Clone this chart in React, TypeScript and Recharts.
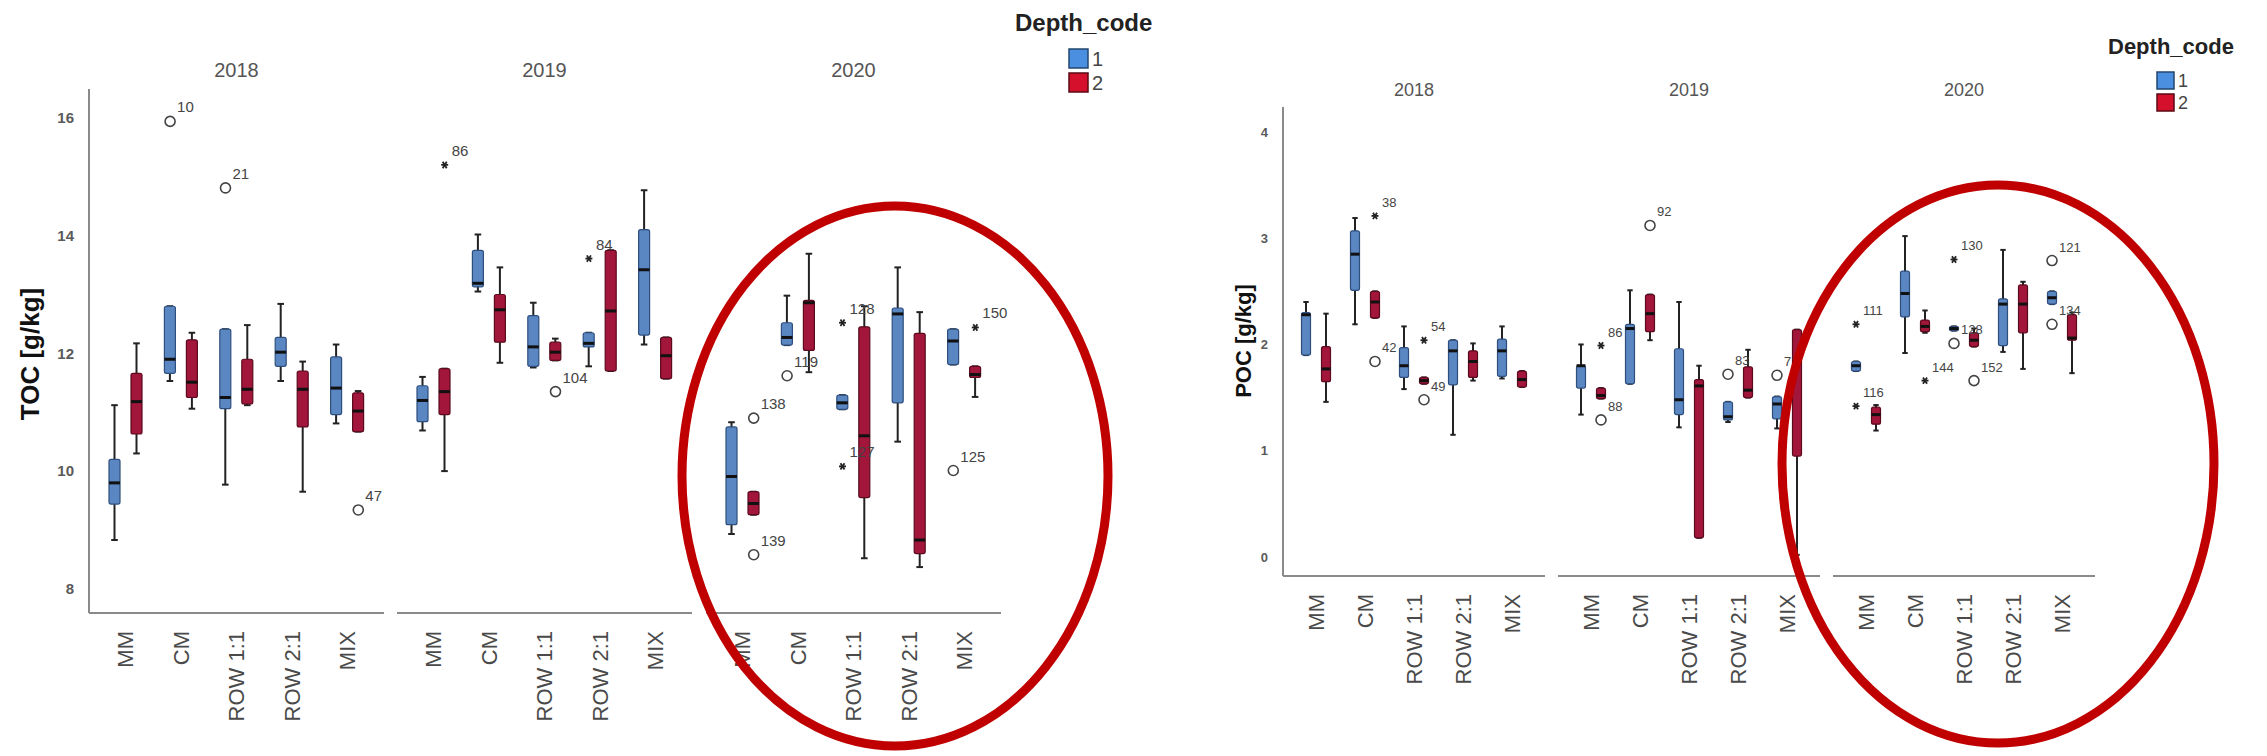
import { ComposedChart, Bar, Scatter, XAxis, YAxis } from "recharts";

const FONT = '"Liberation Sans", Arial, sans-serif';

const categories = ["MM", "CM", "ROW 1:1", "ROW 2:1", "MIX"];
const years = ["2018", "2019", "2020"];

// each entry: [min, q1, median, q3, max], one per category
const toc2018Depth1 = [[8.83, 9.44, 9.8, 10.2, 11.12], [11.53, 11.66, 11.9, 12.8, 12.8], [9.77, 11.06, 11.25, 12.41, 12.41], [11.53, 11.78, 12.02, 12.27, 12.84], [10.81, 10.96, 11.41, 11.94, 12.15]];
const toc2018Depth2 = [[10.3, 10.63, 11.18, 11.66, 12.17], [11.06, 11.25, 11.51, 12.23, 12.35], [11.12, 11.14, 11.39, 11.9, 12.48], [9.65, 10.75, 11.39, 11.7, 11.86], [10.67, 10.67, 11.02, 11.33, 11.36]];
const toc2019Depth1 = [[10.69, 10.84, 11.2, 11.45, 11.6], [13.05, 13.13, 13.19, 13.75, 14.02], [11.76, 11.78, 12.11, 12.64, 12.86], [11.78, 12.11, 12.17, 12.35, 12.35], [12.15, 12.31, 13.42, 14.1, 14.77]];
const toc2019Depth2 = [[10.0, 10.96, 11.35, 11.74, 11.74], [11.84, 12.19, 12.74, 13.0, 13.46], [11.88, 11.88, 12.02, 12.19, 12.25], [11.7, 11.7, 12.72, 13.75, 13.75], [11.57, 11.57, 11.96, 12.27, 12.27]];
const toc2020Depth1 = [[8.93, 9.09, 9.91, 10.75, 10.83], [12.14, 12.14, 12.27, 12.52, 12.98], [11.05, 11.05, 11.16, 11.29, 11.29], [10.5, 11.16, 12.67, 12.77, 13.46], [11.81, 11.81, 12.21, 12.41, 12.41]];
const toc2020Depth2 = [[9.26, 9.26, 9.45, 9.65, 9.65], [11.68, 12.05, 12.86, 12.9, 13.69], [8.52, 9.55, 10.6, 12.45, 12.8], [8.37, 8.6, 8.83, 12.34, 12.7], [11.26, 11.59, 11.64, 11.78, 11.78]];

const poc2018Depth1 = [[1.9, 1.9, 2.28, 2.3, 2.4], [2.19, 2.51, 2.85, 3.07, 3.19], [1.58, 1.69, 1.8, 1.97, 2.17], [1.15, 1.62, 1.94, 2.04, 2.04], [1.68, 1.7, 1.94, 2.05, 2.17]];
const poc2018Depth2 = [[1.46, 1.65, 1.77, 1.98, 2.29], [2.25, 2.25, 2.4, 2.5, 2.5], [1.63, 1.63, 1.66, 1.69, 1.69], [1.66, 1.69, 1.84, 1.94, 2.01], [1.6, 1.6, 1.67, 1.75, 1.75]];
const poc2019Depth1 = [[1.34, 1.59, 1.8, 1.8, 2.0], [1.63, 1.63, 2.15, 2.19, 2.51], [1.22, 1.34, 1.48, 1.96, 2.4], [1.27, 1.29, 1.32, 1.46, 1.46], [1.21, 1.3, 1.44, 1.51, 1.51]];
const poc2019Depth2 = [[1.49, 1.49, 1.52, 1.59, 1.59], [2.04, 2.12, 2.29, 2.47, 2.47], [0.18, 0.18, 1.61, 1.67, 1.8], [1.5, 1.5, 1.57, 1.79, 1.95], [0.02, 0.95, 1.84, 2.14, 2.14]];
const poc2020Depth1 = [[1.75, 1.75, 1.8, 1.84, 1.84], [1.92, 2.26, 2.48, 2.69, 3.02], [2.13, 2.13, 2.15, 2.17, 2.17], [1.93, 1.99, 2.38, 2.43, 2.89], [2.38, 2.38, 2.44, 2.5, 2.5]];
const poc2020Depth2 = [[1.19, 1.25, 1.34, 1.41, 1.43], [2.11, 2.12, 2.17, 2.23, 2.32], [1.98, 1.98, 2.04, 2.11, 2.15], [1.77, 2.11, 2.38, 2.56, 2.59], [1.73, 2.04, 2.06, 2.28, 2.3]];

// kind: "o" = outlier circle, "*" = extreme (asterisk)
const tocOutliers = [
  { year: "2018", cat: "CM", depth: 1, value: 15.94, id: "10", kind: "o" },
  { year: "2018", cat: "ROW 1:1", depth: 1, value: 14.81, id: "21", kind: "o" },
  { year: "2018", cat: "MIX", depth: 2, value: 9.34, id: "47", kind: "o" },
  { year: "2019", cat: "MM", depth: 2, value: 15.2, id: "86", kind: "*" },
  { year: "2019", cat: "ROW 1:1", depth: 2, value: 11.35, id: "104", kind: "o" },
  { year: "2019", cat: "ROW 2:1", depth: 1, value: 13.61, id: "84", kind: "*" },
  { year: "2020", cat: "MM", depth: 2, value: 10.9, id: "138", kind: "o" },
  { year: "2020", cat: "MM", depth: 2, value: 8.58, id: "139", kind: "o" },
  { year: "2020", cat: "CM", depth: 1, value: 11.62, id: "119", kind: "o" },
  { year: "2020", cat: "ROW 1:1", depth: 1, value: 12.52, id: "128", kind: "*" },
  { year: "2020", cat: "ROW 1:1", depth: 1, value: 10.08, id: "127", kind: "*" },
  { year: "2020", cat: "MIX", depth: 1, value: 10.01, id: "125", kind: "o" },
  { year: "2020", cat: "MIX", depth: 2, value: 12.44, id: "150", kind: "*" },
];

const pocOutliers = [
  { year: "2018", cat: "CM", depth: 2, value: 3.21, id: "38", kind: "*" },
  { year: "2018", cat: "CM", depth: 2, value: 1.84, id: "42", kind: "o" },
  { year: "2018", cat: "ROW 1:1", depth: 2, value: 2.04, id: "54", kind: "*" },
  { year: "2018", cat: "ROW 1:1", depth: 2, value: 1.48, id: "49", kind: "o" },
  { year: "2019", cat: "MM", depth: 2, value: 1.99, id: "86", kind: "*" },
  { year: "2019", cat: "MM", depth: 2, value: 1.29, id: "88", kind: "o" },
  { year: "2019", cat: "CM", depth: 2, value: 3.12, id: "92", kind: "o" },
  { year: "2019", cat: "ROW 2:1", depth: 1, value: 1.72, id: "83", kind: "o" },
  { year: "2019", cat: "MIX", depth: 1, value: 1.71, id: "71", kind: "o" },
  { year: "2020", cat: "MM", depth: 1, value: 2.19, id: "111", kind: "*" },
  { year: "2020", cat: "MM", depth: 1, value: 1.42, id: "116", kind: "*" },
  { year: "2020", cat: "CM", depth: 2, value: 1.66, id: "144", kind: "*" },
  { year: "2020", cat: "ROW 1:1", depth: 1, value: 2.8, id: "130", kind: "*" },
  { year: "2020", cat: "ROW 1:1", depth: 1, value: 2.01, id: "128", kind: "o" },
  { year: "2020", cat: "ROW 1:1", depth: 2, value: 1.66, id: "152", kind: "o" },
  { year: "2020", cat: "MIX", depth: 1, value: 2.79, id: "121", kind: "o" },
  { year: "2020", cat: "MIX", depth: 1, value: 2.19, id: "134", kind: "o" },
];

const tocTicks = [8, 10, 12, 14, 16];
const pocTicks = [0, 1, 2, 3, 4];

const BLUE = "#5a86c2";
const BLUE_EDGE = "#2e4f7e";
const RED = "#a1163a";
const RED_EDGE = "#5c0a1e";

const rowsFor = (d1: number[][], d2: number[][]) =>
  categories.map((cat, i) => ({ cat, d1: d1[i], d2: d2[i] }));

const panels = [
  {
    title: "TOC [g/kg]",
    yWidth: 89,
    plotLefts: [89, 397, 706],
    facetW: 295,
    top: 89,
    bottom: 613,
    pad: 9,
    domain: [7.59, 16.49],
    ticks: tocTicks,
    tickFont: 15,
    catFont: 22,
    barSize: 11,
    barGap: 11,
    labelFont: 15,
    rows: [rowsFor(toc2018Depth1, toc2018Depth2), rowsFor(toc2019Depth1, toc2019Depth2), rowsFor(toc2020Depth1, toc2020Depth2)],
    outliers: tocOutliers,
  },
  {
    title: "POC [g/kg]",
    yWidth: 83,
    plotLefts: [1283, 1558, 1833],
    facetW: 262,
    top: 107,
    bottom: 576,
    pad: 8.5,
    domain: [-0.179, 4.235],
    ticks: pocTicks,
    tickFont: 13,
    catFont: 22,
    barSize: 9,
    barGap: 11,
    labelFont: 13,
    rows: [rowsFor(poc2018Depth1, poc2018Depth2), rowsFor(poc2019Depth1, poc2019Depth2), rowsFor(poc2020Depth1, poc2020Depth2)],
    outliers: pocOutliers,
  },
];

const rangeOf = (key: "d1" | "d2") => (r: any) => (r && r[key] ? [r[key][0], r[key][4]] : null);

const makeBox = (key: "d1" | "d2", fill: string, edge: string) => (props: any) => {
  const { x, y, width, height, payload } = props;
  if (!payload || !payload[key]) return <g />;
  const [lo, q1, med, q3, hi] = payload[key];
  const top = Math.min(y, y + height);
  const bottom = Math.max(y, y + height);
  const py = (v: number) => bottom - ((v - lo) / (hi - lo)) * (bottom - top);
  const cx = x + width / 2;
  const cap = width * 0.3;
  const boxTop = py(q3);
  const boxH = Math.max(py(q1) - boxTop, 2);
  return (
    <g>
      <line x1={cx} x2={cx} y1={py(hi)} y2={py(lo)} stroke="#222" strokeWidth={2} />
      <line x1={cx - cap} x2={cx + cap} y1={py(hi)} y2={py(hi)} stroke="#222" strokeWidth={2} />
      <line x1={cx - cap} x2={cx + cap} y1={py(lo)} y2={py(lo)} stroke="#222" strokeWidth={2} />
      <rect x={x} y={boxTop} width={width} height={boxH} rx={2} fill={fill} stroke={edge} strokeWidth={1.2} />
      <line x1={x} x2={x + width} y1={py(med)} y2={py(med)} stroke="#111" strokeWidth={3} />
    </g>
  );
};

const makeOutlier = (shift: number, fontSize: number) => (props: any) => {
  const { cx, cy, payload } = props;
  if (cx == null || cy == null || !payload) return <g />;
  const x = cx + (payload.depth === 1 ? -shift : shift);
  const mark =
    payload.kind === "o" ? (
      <circle cx={x} cy={cy} r={5} fill="none" stroke="#444" strokeWidth={1.6} />
    ) : (
      <g stroke="#222" strokeWidth={1.8}>
        <line x1={x - 3.5} x2={x + 3.5} y1={cy} y2={cy} />
        <line x1={x - 2} x2={x + 2} y1={cy - 3.2} y2={cy + 3.2} />
        <line x1={x + 2} x2={x - 2} y1={cy - 3.2} y2={cy + 3.2} />
      </g>
    );
  return (
    <g>
      {mark}
      <text x={x + 7} y={cy - 9} fontSize={fontSize} fill="#444" fontFamily={FONT}>
        {payload.id}
      </text>
    </g>
  );
};

const CatTick = ({ x, y, payload, fontSize }: any) => {
  const ty = y + 10;
  return (
    <text x={x} y={ty} transform={`rotate(-90 ${x} ${ty})`} textAnchor="end" dy="0.35em" fontSize={fontSize} fill="#4a4a4a" fontFamily={FONT}>
      {payload.value}
    </text>
  );
};

const ValTick = ({ x, y, payload, fontSize }: any) => (
  <text x={x - 7} y={y} textAnchor="end" dy="0.35em" fontSize={fontSize} fontWeight="bold" fill="#5a5a5a" fontFamily={FONT}>
    {payload.value}
  </text>
);

function Facet({ panel, idx }: { panel: (typeof panels)[number]; idx: number }) {
  const yw = idx === 0 ? panel.yWidth : 0;
  const left = panel.plotLefts[idx] - yw;
  const height = 756;
  const xHeight = height - panel.bottom;
  const shift = (panel.barSize + panel.barGap) / 2;
  const outs = panel.outliers.filter((o) => o.year === years[idx]);
  return (
    <div style={{ position: "absolute", left, top: 0 }}>
      <ComposedChart
        width={yw + panel.facetW}
        height={height}
        data={panel.rows[idx]}
        margin={{ top: panel.top, right: 0, bottom: 0, left: 0 }}
        barGap={panel.barGap}
      >
        <XAxis
          dataKey="cat"
          type="category"
          allowDuplicatedCategory={false}
          height={xHeight}
          padding={{ left: panel.pad, right: panel.pad }}
          tickLine={false}
          interval={0}
          axisLine={{ stroke: "#8a8a8a", strokeWidth: 2 }}
          tick={<CatTick fontSize={panel.catFont} />}
        />
        <YAxis
          type="number"
          domain={panel.domain}
          allowDataOverflow
          ticks={panel.ticks}
          width={yw}
          tickLine={false}
          axisLine={{ stroke: "#8a8a8a", strokeWidth: 2 }}
          tick={idx === 0 ? <ValTick fontSize={panel.tickFont} /> : false}
        />
        <Bar dataKey={rangeOf("d1")} barSize={panel.barSize} shape={makeBox("d1", BLUE, BLUE_EDGE)} isAnimationActive={false} />
        <Bar dataKey={rangeOf("d2")} barSize={panel.barSize} shape={makeBox("d2", RED, RED_EDGE)} isAnimationActive={false} />
        <Scatter data={outs} dataKey="value" shape={makeOutlier(shift, panel.labelFont)} isAnimationActive={false} />
      </ComposedChart>
    </div>
  );
}

function Overlay() {
  return (
    <svg width={2267} height={756} style={{ position: "absolute", left: 0, top: 0, pointerEvents: "none" }} fontFamily={FONT}>
      {years.map((yr, i) => (
        <text key={"l" + yr} x={panels[0].plotLefts[i] + panels[0].facetW / 2} y={70} textAnchor="middle" dy="0.35em" fontSize={20} fill="#555">
          {yr}
        </text>
      ))}
      {years.map((yr, i) => (
        <text key={"r" + yr} x={panels[1].plotLefts[i] + panels[1].facetW / 2} y={90} textAnchor="middle" dy="0.35em" fontSize={18} fill="#555">
          {yr}
        </text>
      ))}
      <text x={30} y={354} transform="rotate(-90 30 354)" textAnchor="middle" dy="0.35em" fontSize={26} fontWeight="bold" fill="#111">
        {panels[0].title}
      </text>
      <text x={1243} y={341} transform="rotate(-90 1243 341)" textAnchor="middle" dy="0.35em" fontSize={22} fontWeight="bold" fill="#111">
        {panels[1].title}
      </text>

      <text x={1015} y={23} dy="0.35em" fontSize={24} fontWeight="bold" fill="#222">Depth_code</text>
      <rect x={1069} y={49} width={19} height={19} fill="#4a8fe0" stroke="#23456f" strokeWidth={1.5} />
      <rect x={1069} y={73} width={19} height={19} fill="#d4102c" stroke="#5a0a12" strokeWidth={1.5} />
      <text x={1092} y={59} dy="0.35em" fontSize={20} fill="#444">1</text>
      <text x={1092} y={83} dy="0.35em" fontSize={20} fill="#444">2</text>

      <text x={2108} y={46} dy="0.35em" fontSize={22} fontWeight="bold" fill="#222">Depth_code</text>
      <rect x={2157} y={72} width={17} height={17} fill="#4a8fe0" stroke="#23456f" strokeWidth={1.5} />
      <rect x={2157} y={94} width={17} height={17} fill="#d4102c" stroke="#5a0a12" strokeWidth={1.5} />
      <text x={2178} y={81} dy="0.35em" fontSize={18} fill="#444">1</text>
      <text x={2178} y={103} dy="0.35em" fontSize={18} fill="#444">2</text>

      <ellipse cx={895} cy={476} rx={213} ry={270} fill="none" stroke="#c00000" strokeWidth={9} />
      <ellipse cx={1998} cy={464} rx={216} ry={279} fill="none" stroke="#c00000" strokeWidth={9} />
    </svg>
  );
}

export default function App() {
  return (
    <div style={{ position: "absolute", left: 0, top: 0, width: 2267, height: 756, background: "#fff", fontFamily: FONT }}>
      <style>{".recharts-surface, .recharts-wrapper { overflow: visible !important; }"}</style>
      {panels.map((p) => years.map((_, i) => <Facet key={p.title + i} panel={p} idx={i} />))}
      <Overlay />
    </div>
  );
}
